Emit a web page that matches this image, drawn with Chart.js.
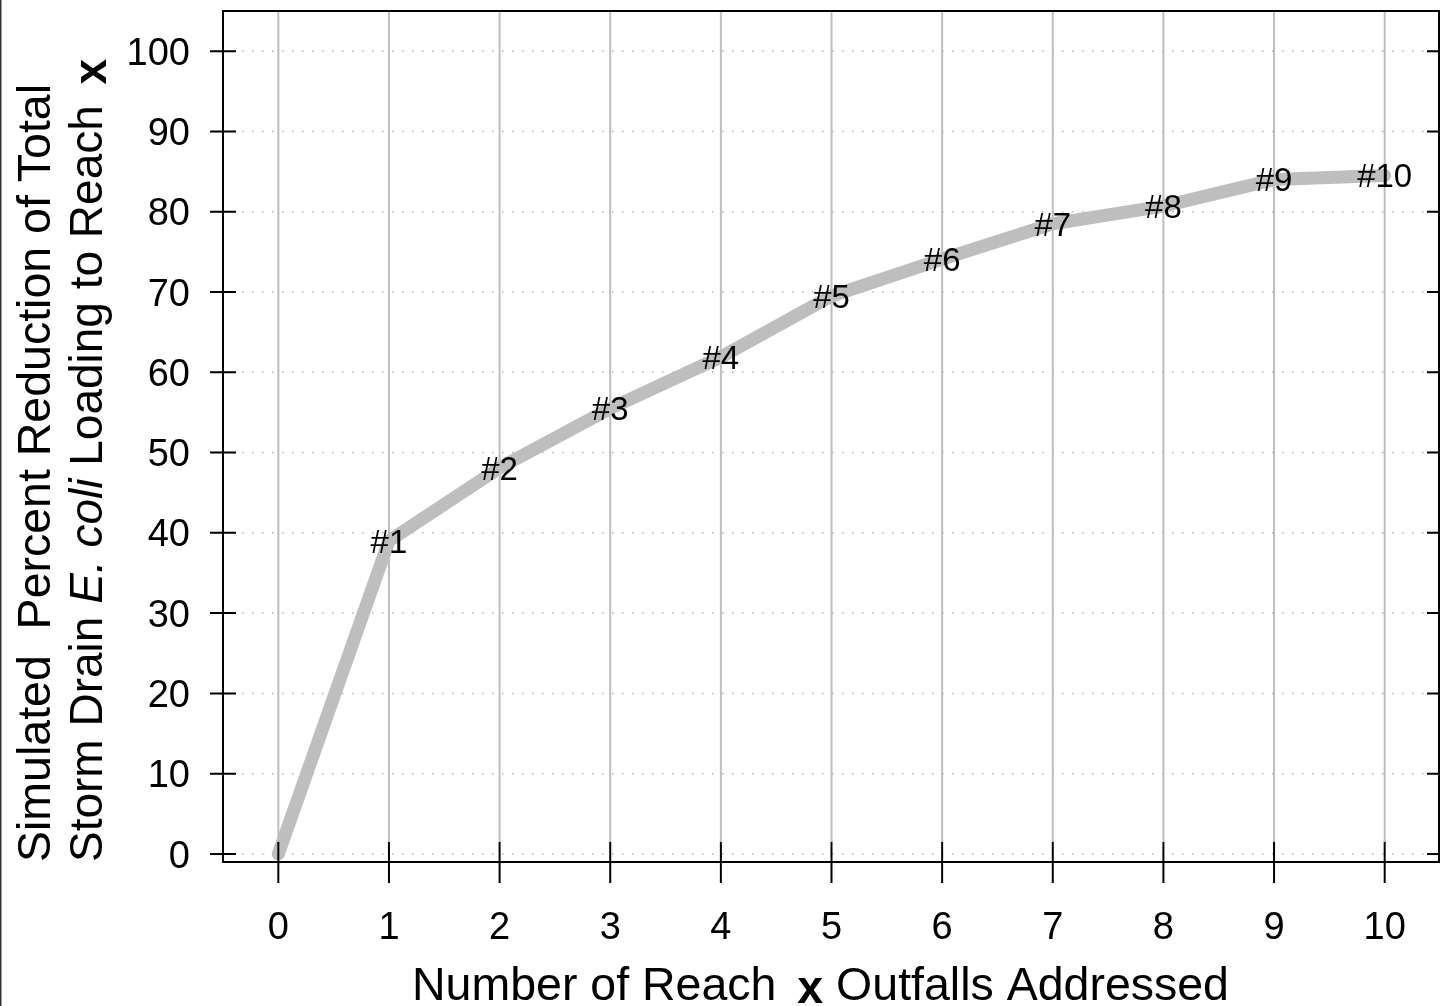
<!DOCTYPE html>
<html>
<head>
<meta charset="utf-8">
<script src="https://cdn.jsdelivr.net/npm/chart.js@4"></script>
<style>
  html, body { margin: 0; padding: 0; background: #fff; }
  #wrap { width: 1441px; height: 1006px; }
</style>
</head>
<body>
<div id="wrap"><canvas id="chart" width="1441" height="1006"></canvas></div>
<script>
const outfalls = [0, 1, 2, 3, 4, 5, 6, 7, 8, 9, 10];
const reduction = [0, 39.0, 48.1, 55.5, 61.9, 69.5, 74.1, 78.5, 80.7, 84.0, 84.5];
const pointLabels = ['', '#1', '#2', '#3', '#4', '#5', '#6', '#7', '#8', '#9', '#10'];
const xTicks = [0, 1, 2, 3, 4, 5, 6, 7, 8, 9, 10];
const yTicks = [0, 10, 20, 30, 40, 50, 60, 70, 80, 90, 100];

const FONT = '"Liberation Sans", Arial, sans-serif';

// draw a row of text pieces with different fonts one after the other
function drawRuns(ctx, runs, x, y) {
  let cx = x;
  runs.forEach(r => {
    ctx.font = r.font;
    ctx.fillText(r.text, cx, y + (r.dy || 0));
    cx += ctx.measureText(r.text).width + (r.gap || 0);
  });
}

const framePlugin = {
  id: 'frame',
  beforeDatasetsDraw(chart) {
    const { ctx, chartArea: a, scales: { x, y } } = chart;
    ctx.save();
    // vertical grid lines, solid
    ctx.strokeStyle = '#bebebe';
    ctx.lineWidth = 2;
    xTicks.forEach(v => {
      const px = x.getPixelForValue(v);
      ctx.beginPath();
      ctx.moveTo(px, a.top);
      ctx.lineTo(px, a.bottom - 20);
      ctx.stroke();
    });
    // horizontal grid lines, dotted
    ctx.strokeStyle = '#b4b4b4';
    ctx.lineWidth = 1.5;
    ctx.setLineDash([1.5, 8.5]);
    yTicks.forEach(v => {
      const py = y.getPixelForValue(v);
      ctx.beginPath();
      ctx.moveTo(a.left + 19, py);
      ctx.lineTo(a.right - 14, py);
      ctx.stroke();
    });
    ctx.restore();
  },
  afterDatasetsDraw(chart) {
    const { ctx, chartArea: a, scales: { x, y } } = chart;
    const meta = chart.getDatasetMeta(0);
    ctx.save();
    ctx.fillStyle = '#000';

    // point labels centred on the points
    ctx.font = '33px ' + FONT;
    ctx.textAlign = 'center';
    ctx.textBaseline = 'alphabetic';
    meta.data.forEach((pt, i) => {
      if (pointLabels[i]) ctx.fillText(pointLabels[i], pt.x, pt.y + 11.8);
    });

    // box
    ctx.strokeStyle = '#000';
    ctx.lineWidth = 2;
    ctx.strokeRect(a.left, a.top, a.right - a.left - 1, a.bottom - a.top);

    // y ticks, left crossing the axis, right inward
    yTicks.forEach(v => {
      const py = y.getPixelForValue(v);
      ctx.beginPath();
      ctx.moveTo(a.left - 13, py);
      ctx.lineTo(a.left + 13, py);
      ctx.moveTo(a.right - 13, py);
      ctx.lineTo(a.right, py);
      ctx.stroke();
    });
    // x ticks crossing the bottom axis
    xTicks.forEach(v => {
      const px = x.getPixelForValue(v);
      ctx.beginPath();
      ctx.moveTo(px, a.bottom - 20);
      ctx.lineTo(px, a.bottom + 21);
      ctx.stroke();
    });

    // tick labels
    ctx.font = '38px ' + FONT;
    ctx.textAlign = 'right';
    yTicks.forEach(v => {
      ctx.fillText(String(v), a.left - 33, y.getPixelForValue(v) + 13.6);
    });
    ctx.textAlign = 'center';
    xTicks.forEach(v => {
      ctx.fillText(String(v), x.getPixelForValue(v), 939);
    });

    // x axis title
    ctx.textAlign = 'left';
    drawRuns(ctx, [
      { text: 'Number of Reach ', font: '46.5px ' + FONT, gap: 8 },
      { text: 'x', font: 'bold 46.5px ' + FONT, dy: 3 },
      { text: ' Outfalls Addressed', font: '46.5px ' + FONT }
    ], 412, 1000);

    // y axis title, two rotated lines
    ctx.translate(0, 862);
    ctx.rotate(-Math.PI / 2);
    drawRuns(ctx, [
      { text: 'Simulated  Percent Reduction of Total', font: '46.5px ' + FONT }
    ], 0, 50);
    drawRuns(ctx, [
      { text: 'Storm Drain ', font: '46px ' + FONT },
      { text: 'E. coli', font: 'italic 46px ' + FONT },
      { text: ' Loading to Reach ', font: '46px ' + FONT, gap: 8 },
      { text: 'x', font: 'bold 46px ' + FONT, dy: 4 }
    ], 0, 102);
    ctx.restore();

    // left page edge
    ctx.fillStyle = '#333';
    ctx.fillRect(0, 0, 1.5, chart.height);
  }
};

new Chart(document.getElementById('chart'), {
  type: 'line',
  data: {
    datasets: [{
      data: outfalls.map((v, i) => ({ x: v, y: reduction[i] })),
      borderColor: '#bebebe',
      borderWidth: 13,
      borderCapStyle: 'round',
      borderJoinStyle: 'round',
      pointRadius: 0,
      tension: 0,
      fill: false
    }]
  },
  options: {
    responsive: false,
    animation: false,
    layout: { padding: { left: 223, right: 1, top: 11, bottom: 144 } },
    plugins: { legend: { display: false }, tooltip: { enabled: false } },
    scales: {
      x: { type: 'linear', min: -0.5, max: 10.5, display: false },
      y: { type: 'linear', min: -1, max: 105, display: false }
    }
  },
  plugins: [framePlugin]
});
</script>
</body>
</html>
